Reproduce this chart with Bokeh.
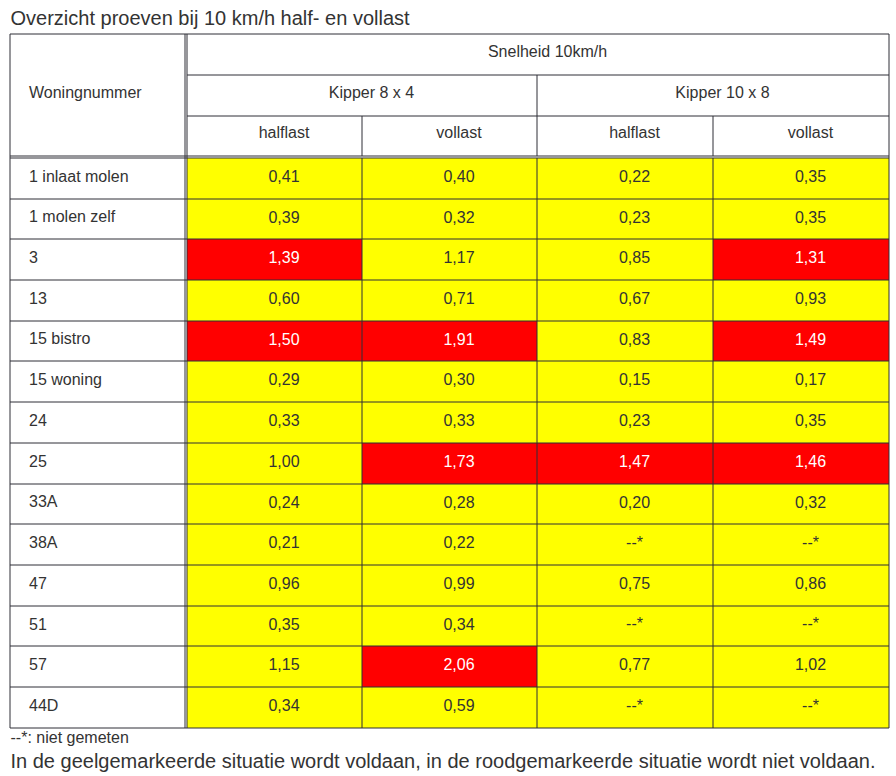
from bokeh.plotting import figure
from bokeh.models import Range1d, ColumnDataSource
from bokeh.embed import file_html
from bokeh.resources import INLINE
from bokeh.core.properties import value

# ---------------- data ----------------
title = "Overzicht proeven bij 10 km/h half- en vollast"
row_header = "Woningnummer"
speed_header = "Snelheid 10km/h"
vehicles = ["Kipper 8 x 4", "Kipper 10 x 8"]
loads = ["halflast", "vollast"]

woningen = ["1 inlaat molen", "1 molen zelf", "3", "13", "15 bistro", "15 woning",
            "24", "25", "33A", "38A", "47", "51", "57", "44D"]

kipper8_half = [0.41, 0.39, 1.39, 0.60, 1.50, 0.29, 0.33, 1.00, 0.24, 0.21, 0.96, 0.35, 1.15, 0.34]
kipper8_vol = [0.40, 0.32, 1.17, 0.71, 1.91, 0.30, 0.33, 1.73, 0.28, 0.22, 0.99, 0.34, 2.06, 0.59]
kipper10_half = [0.22, 0.23, 0.85, 0.67, 0.83, 0.15, 0.23, 1.47, 0.20, None, 0.75, None, 0.77, None]
kipper10_vol = [0.35, 0.35, 1.31, 0.93, 1.49, 0.17, 0.35, 1.46, 0.32, None, 0.86, None, 1.02, None]

# 1 = red (niet voldaan), 0 = yellow (voldaan)
kipper8_half_red = [0, 0, 1, 0, 1, 0, 0, 0, 0, 0, 0, 0, 0, 0]
kipper8_vol_red = [0, 0, 0, 0, 1, 0, 0, 1, 0, 0, 0, 0, 1, 0]
kipper10_half_red = [0, 0, 0, 0, 0, 0, 0, 1, 0, 0, 0, 0, 0, 0]
kipper10_vol_red = [0, 0, 1, 0, 1, 0, 0, 1, 0, 0, 0, 0, 0, 0]

missing_label = "--*"
footnote = "--*: niet gemeten"
conclusion = "In de geelgemarkeerde situatie wordt voldaan, in de roodgemarkeerde situatie wordt niet voldaan."

columns = [kipper8_half, kipper8_vol, kipper10_half, kipper10_vol]
red_flags = [kipper8_half_red, kipper8_vol_red, kipper10_half_red, kipper10_vol_red]

# ---------------- layout (page pixels) ----------------
FONT = "Liberation Sans"
TXT = "#333333"
LINE = "#2e2e36"
YELLOW = "#FFFF00"
RED = "#FF0000"

X_LEFT = 9.5
X_DBL1, X_DBL2 = 184.5, 186.5
COL_EDGES = [186.5, 361.5, 536.5, 712.5, 888.5]
HEAD_LINES = [33.5, 74.5, 115.5, 155.5]
DATA_TOP = 157.5
ROW_H = 40.7
N = len(woningen)
DATA_LINES = [DATA_TOP] + [round(157 + k * ROW_H) + 0.5 for k in range(1, N + 1)]
Y_BOTTOM = DATA_LINES[-1]
PAD = 19
BASE_OFF = 4.5
DY16 = -7.0   # renderer baseline correction, 16px text
DY20 = -8.0   # renderer baseline correction, 20px text

p = figure(width=896, height=776, output_backend="svg", toolbar_location=None,
           x_range=Range1d(0, 896), y_range=Range1d(776, 0),
           x_axis_location=None, y_axis_location=None, min_border=0)
p.grid.visible = False
p.outline_line_color = None
p.background_fill_color = "white"
p.border_fill_color = "white"

# ---- cell fills ----
fl, fr, ft, fb, fc = [], [], [], [], []
for ci, (vals, flags) in enumerate(zip(columns, red_flags)):
    for ri in range(N):
        fl.append(COL_EDGES[ci]); fr.append(COL_EDGES[ci + 1])
        ft.append(DATA_LINES[ri]); fb.append(DATA_LINES[ri + 1])
        fc.append(RED if flags[ri] else YELLOW)
p.quad(left=fl, right=fr, top=ft, bottom=fb, fill_color=fc, line_color=None)

# ---- grid lines ----
x0s, y0s, x1s, y1s = [], [], [], []
def seg(a, b, c, d):
    x0s.append(a); y0s.append(b); x1s.append(c); y1s.append(d)

seg(X_LEFT, HEAD_LINES[0], COL_EDGES[-1], HEAD_LINES[0])
seg(X_LEFT, Y_BOTTOM, COL_EDGES[-1], Y_BOTTOM)
seg(X_LEFT, HEAD_LINES[0], X_LEFT, Y_BOTTOM)
seg(COL_EDGES[-1], HEAD_LINES[0], COL_EDGES[-1], Y_BOTTOM)
seg(X_DBL1, HEAD_LINES[0], X_DBL1, Y_BOTTOM)
seg(X_DBL2, HEAD_LINES[0], X_DBL2, Y_BOTTOM)
seg(X_DBL2, HEAD_LINES[1], COL_EDGES[-1], HEAD_LINES[1])
seg(X_DBL2, HEAD_LINES[2], COL_EDGES[-1], HEAD_LINES[2])
seg(X_LEFT, HEAD_LINES[3], COL_EDGES[-1], HEAD_LINES[3])
seg(X_LEFT, DATA_TOP, COL_EDGES[-1], DATA_TOP)
seg(COL_EDGES[2], HEAD_LINES[1], COL_EDGES[2], HEAD_LINES[3])
for e in (COL_EDGES[1], COL_EDGES[3]):
    seg(e, HEAD_LINES[2], e, HEAD_LINES[3])
for e in COL_EDGES[1:-1]:
    seg(e, DATA_TOP, e, Y_BOTTOM)
for y in DATA_LINES[1:-1]:
    seg(X_LEFT, y, COL_EDGES[-1], y)
p.segment(x0=x0s, y0=y0s, x1=x1s, y1=y1s, line_color=LINE, line_width=1)

# ---- texts ----
def center(a, b):
    return (a + b) / 2

tx, ty, tt, tc = [], [], [], []
tx.append(center(COL_EDGES[0], COL_EDGES[-1]) + PAD / 2)
ty.append(center(HEAD_LINES[0], HEAD_LINES[1]) + BASE_OFF - 0.3 + DY16)
tt.append(speed_header); tc.append(TXT)
for vi, v in enumerate(vehicles):
    tx.append(center(COL_EDGES[2 * vi], COL_EDGES[2 * vi + 2]) + PAD / 2)
    ty.append(center(HEAD_LINES[1], HEAD_LINES[2]) + BASE_OFF - 0.3 + DY16)
    tt.append(v); tc.append(TXT)
for ci in range(4):
    tx.append(center(COL_EDGES[ci], COL_EDGES[ci + 1]) + PAD / 2)
    ty.append(center(HEAD_LINES[2], HEAD_LINES[3]) + BASE_OFF - 1.5 + DY16)
    tt.append(loads[ci % 2]); tc.append(TXT)
for ci, (vals, flags) in enumerate(zip(columns, red_flags)):
    for ri, v in enumerate(vals):
        tx.append(center(COL_EDGES[ci], COL_EDGES[ci + 1]) + PAD / 2)
        ty.append(center(DATA_LINES[ri], DATA_LINES[ri + 1]) + BASE_OFF + DY16)
        tt.append(missing_label if v is None else f"{v:.2f}".replace(".", ","))
        tc.append("white" if flags[ri] else TXT)
src_c = ColumnDataSource(dict(x=tx, y=ty, t=tt, c=tc))
p.text(x="x", y="y", text="t", text_color="c", source=src_c,
       text_font=value(FONT), text_font_size=value("16px"),
       text_align="center", text_baseline="alphabetic")

lx = [X_LEFT + PAD] * (N + 1)
ly = [center(HEAD_LINES[0], HEAD_LINES[3]) + BASE_OFF - 0.3 + DY16] + \
     [center(DATA_LINES[i], DATA_LINES[i + 1]) + BASE_OFF + DY16 for i in range(N)]
lt = [row_header] + woningen
p.text(x=lx, y=ly, text=lt, text_color=TXT,
       text_font=value(FONT), text_font_size=value("16px"),
       text_align="left", text_baseline="alphabetic")

p.text(x=[10], y=[25 + DY20], text=[title], text_color=TXT, text_font=value(FONT),
       text_font_size=value("20px"), text_align="left", text_baseline="alphabetic")
p.text(x=[10], y=[743.5 + DY16], text=[footnote], text_color=TXT, text_font=value(FONT),
       text_font_size=value("16px"), text_align="left", text_baseline="alphabetic")
p.text(x=[10], y=[768.5 + DY20], text=[conclusion], text_color=TXT, text_font=value(FONT),
       text_font_size=value("20px"), text_align="left", text_baseline="alphabetic")

open("out.html", "w").write(file_html(p, INLINE))
